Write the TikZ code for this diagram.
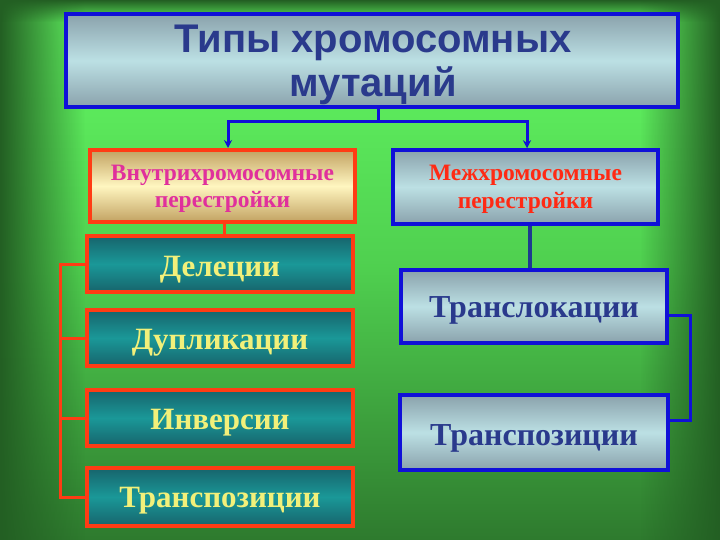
\documentclass[tikz,border=0pt]{standalone}
\usepackage{fontspec}
\setmainfont{Liberation Serif}
\newfontfamily\titlefont{Liberation Sans}
\usetikzlibrary{fadings,arrows.meta}
\definecolor{bgtop}{HTML}{64FA64}
\definecolor{bgmid}{HTML}{4FCF4F}
\definecolor{bgbot}{HTML}{2E7A2E}
\definecolor{edgedark}{HTML}{235F23}
\definecolor{bluebord}{HTML}{1010D8}
\definecolor{redbord}{HTML}{FF3C14}
\definecolor{greyA}{HTML}{8AA2AC}
\definecolor{greyB}{HTML}{BCE0E4}
\definecolor{tealA}{HTML}{17646C}
\definecolor{tealB}{HTML}{1A9898}
\definecolor{khakiA}{HTML}{C2A262}
\definecolor{khakiB}{HTML}{FFF6C0}
\definecolor{titleblue}{HTML}{2A3A8C}
\definecolor{textyellow}{HTML}{F2F07A}
\definecolor{textmagenta}{HTML}{E0309C}
\definecolor{textred}{HTML}{FF2A14}
\definecolor{linkblue}{HTML}{1E3A90}
\tikzfading[name=fadeleft, left color=transparent!0, right color=transparent!100]
\tikzfading[name=faderight, left color=transparent!100, right color=transparent!0]
\tikzfading[name=fadetop, top color=transparent!0, bottom color=transparent!100]
\tikzset{
  greybox/.style={draw=bluebord, line width=3.5pt, top color=greyA, bottom color=greyA, middle color=greyB, inner sep=0pt},
  tealbox/.style={draw=redbord, line width=4pt, top color=tealA, bottom color=tealA, middle color=tealB, inner sep=0pt,
     minimum width=266pt, minimum height=56pt, text=textyellow, text height=22pt, text depth=0pt,
     font=\bfseries\fontsize{31}{34}\selectfont},
  khakibox/.style={draw=redbord, line width=4pt, top color=khakiA, bottom color=khakiA, middle color=khakiB, inner sep=0pt},
  bluelink/.style={draw=bluebord, line width=3pt},
  redlink/.style={draw=redbord, line width=3pt},
}
\begin{document}
\begin{tikzpicture}[x=1pt,y=-1pt]
\useasboundingbox (0,0) rectangle (720,540);
% background
\shade[top color=bgtop, bottom color=bgbot, middle color=bgmid] (0,0) rectangle (720,540);
\fill[edgedark, path fading=fadeleft] (0,0) rectangle (85,540);
\fill[edgedark, path fading=faderight] (640,0) rectangle (720,540);
\fill[edgedark, path fading=fadetop] (0,0) rectangle (720,22);
% title
\node[greybox, minimum width=612pt, minimum height=93pt] (title) at (372,60.5) {};
\node[text=titleblue, align=center, inner sep=0pt,
      font=\titlefont\bfseries\fontsize{40}{44}\selectfont] (titletext) at (373,65)
      {Типы хромосомных\\мутаций};
% headers
\node[khakibox, minimum width=265pt, minimum height=72pt, text=textmagenta, align=center,
      text depth=0pt, font=\bfseries\fontsize{23.5}{27}\selectfont] (lh) at (222.5,186)
      {Внутрихромосомные\\перестройки};
\node[greybox, minimum width=265pt, minimum height=74pt, text=textred, align=center,
      text depth=0pt, font=\bfseries\fontsize{23.5}{28}\selectfont] (rh) at (525.5,187)
      {Межхромосомные\\перестройки};
% left column
\node[tealbox, text height=24pt] (del) at (220,264) {Делеции};
\node[tealbox] (dup) at (220,338) {Дупликации};
\node[tealbox, text height=23pt] (inv) at (220,418) {Инверсии};
\node[tealbox, minimum height=58pt, text height=21pt] (trl) at (220,497) {Транспозиции};
% right column
\node[greybox, minimum width=266pt, minimum height=73pt, text=titleblue, text height=21pt, text depth=0pt,
      font=\bfseries\fontsize{32}{34}\selectfont] (tsl) at (534,306.5) {Транслокации};
\node[greybox, minimum width=268pt, minimum height=75pt, text=titleblue, text height=25pt, text depth=0pt,
      font=\bfseries\fontsize{32}{34}\selectfont] (trr) at (534,432.5) {Транспозиции};
% connectors from title
\draw[bluelink] ([xshift=6pt]title.south) -- ++(0,13) coordinate (j);
\draw[bluelink, -{Stealth[length=8pt,width=8pt]}] (j) -| ([xshift=5.5pt]lh.north);
\draw[bluelink, -{Stealth[length=8pt,width=8pt]}] (j) -| ([xshift=1.5pt]rh.north);
% left links
\draw[redlink] ([xshift=1.5pt]lh.south) -- ([xshift=1.5pt]lh.south |- del.north);
\coordinate (lx) at (60,0);
\draw[redlink] (del.west) -- (del.west -| lx) -- (trl.west -| lx) -- (trl.west);
\draw[redlink] (dup.west -| lx) -- (dup.west);
\draw[redlink] (inv.west -| lx) -- (inv.west);
% right links
\draw[draw=linkblue, line width=3.5pt] ([xshift=4.5pt]rh.south) -- ([xshift=4.5pt]rh.south |- tsl.north);
\coordinate (rx) at (690,0);
\draw[bluelink] ([yshift=-9pt]tsl.east) -- ([yshift=-9pt]tsl.east -| rx) -- ([yshift=12pt]trr.east -| rx) -- ([yshift=12pt]trr.east);
\end{tikzpicture}
\end{document}
